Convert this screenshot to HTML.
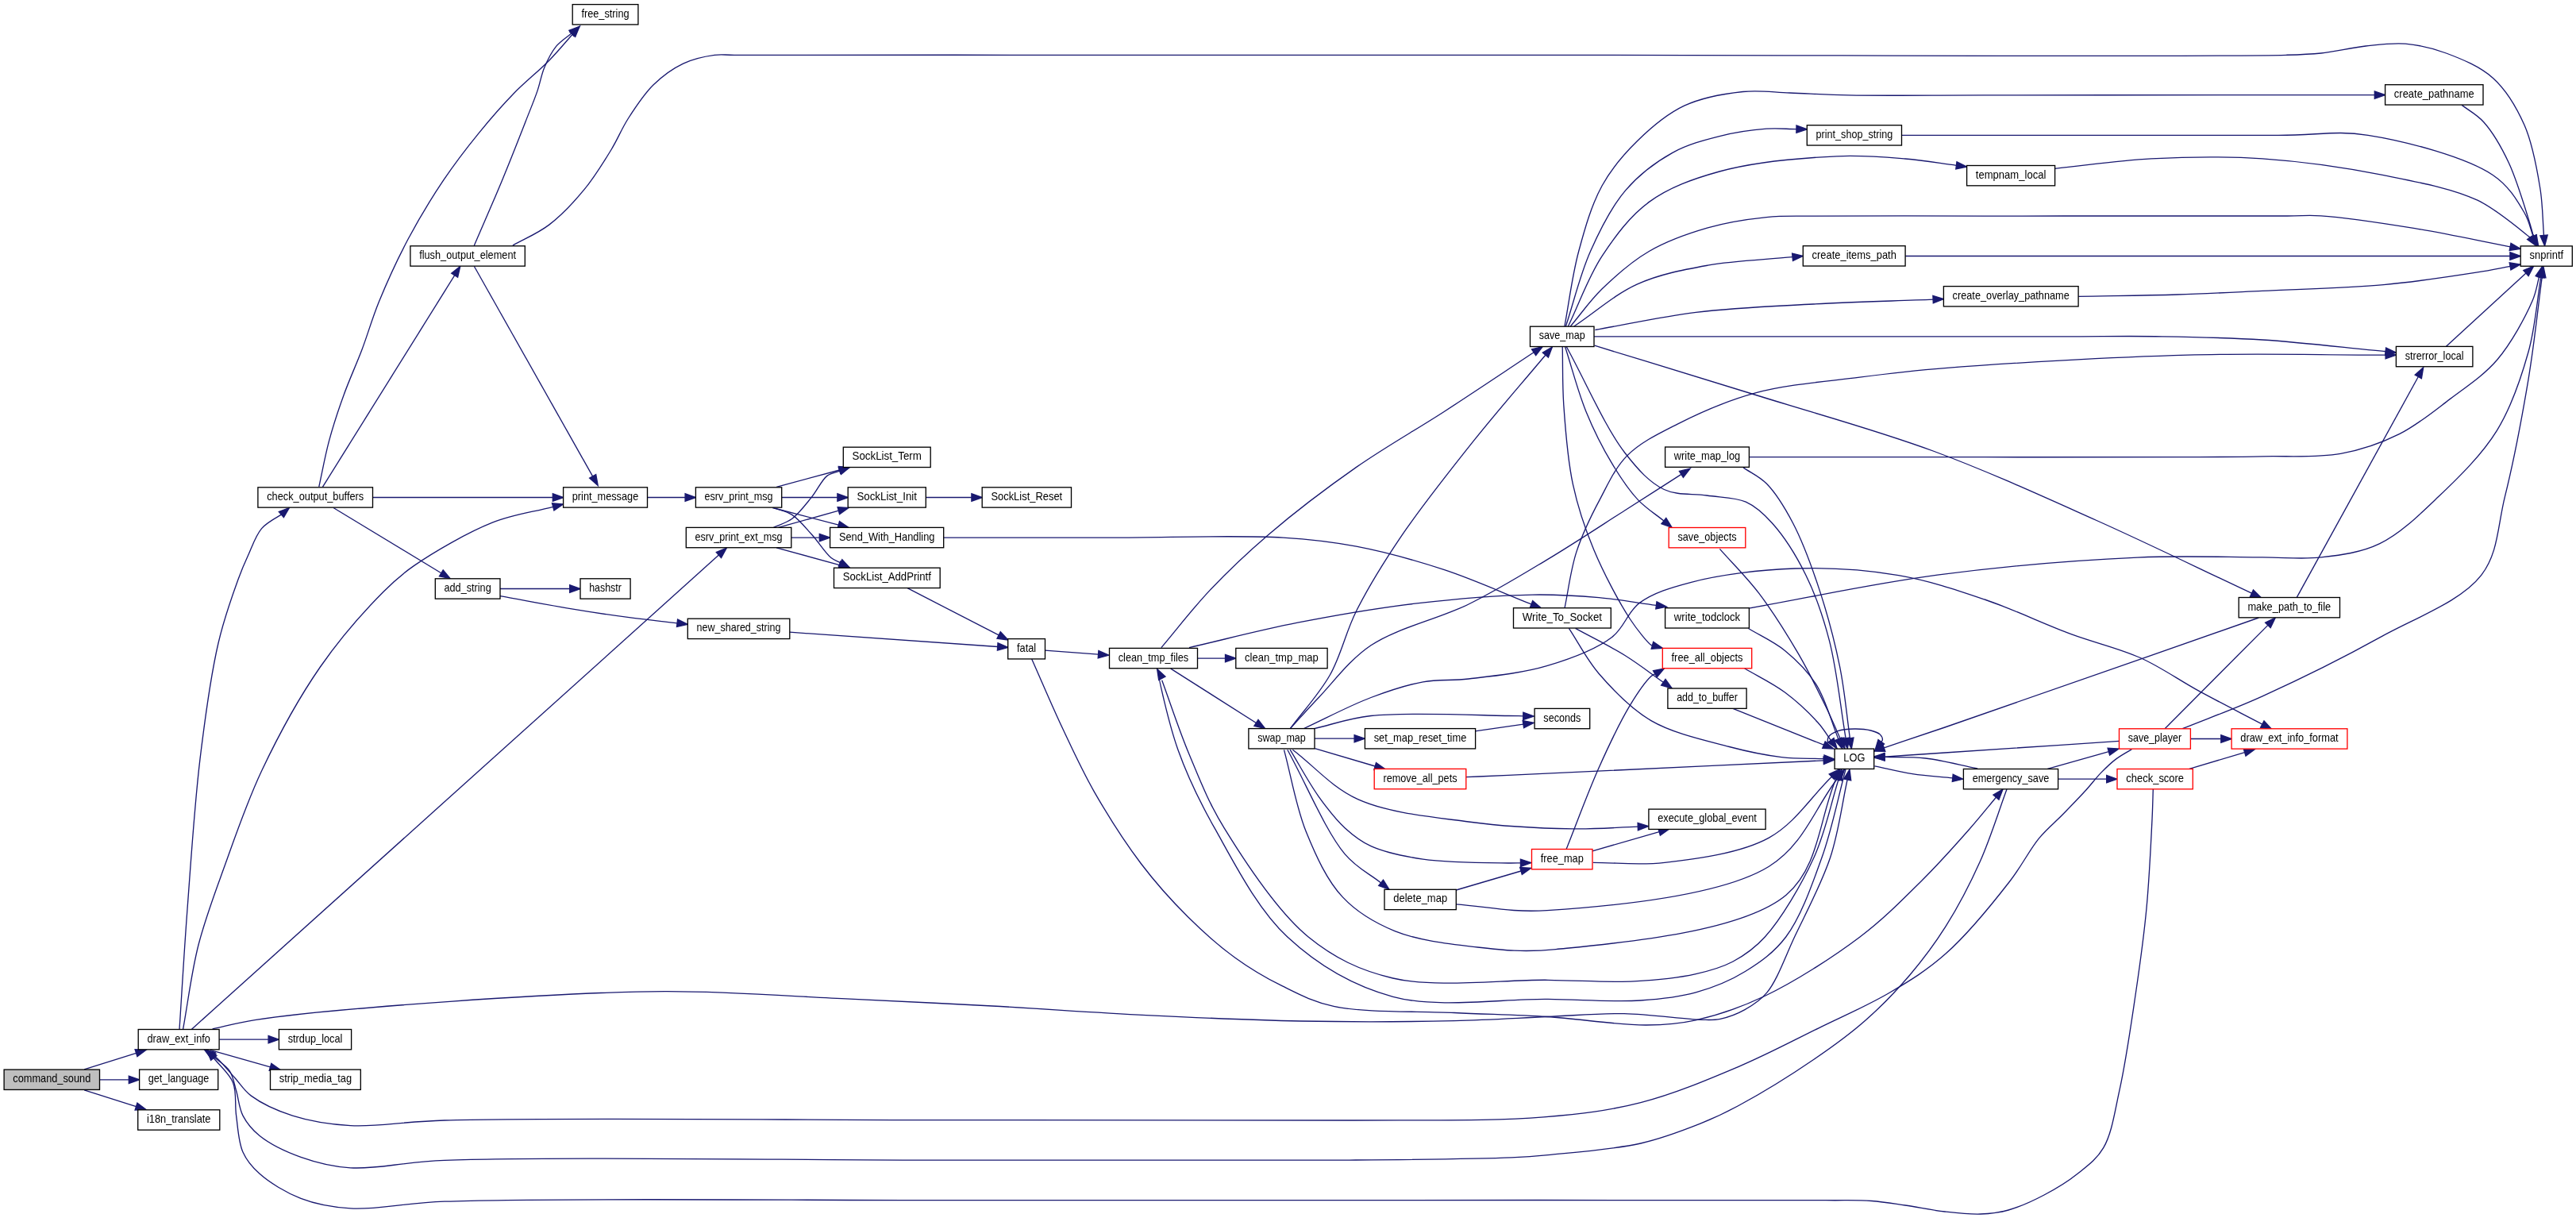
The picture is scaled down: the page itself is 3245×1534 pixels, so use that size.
<!DOCTYPE html><html><head><meta charset="utf-8"><style>html,body{margin:0;padding:0;background:#fff;overflow:hidden;width:3245px;height:1534px}svg{display:block;will-change:transform}text{font-family:"Liberation Sans",sans-serif;font-size:13.75px}</style></head><body>
<svg width="3245" height="1534" viewBox="0 0 3245 1534">
<g fill="none" stroke="#191970" stroke-width="1.33">
<path d="M106.1,1346.8L171.5,1326.3"/>
<path d="M125.5,1359.8L162.3,1359.8"/>
<path d="M106.1,1372.9L171.5,1393.6"/>
<path d="M276.1,1309.2L338.1,1309.2"/>
<path d="M264.7,1322.3L340.5,1343.9"/>
<path d="M226.0,1296.6C229.3,1246.0 232.0,1198.1 236.0,1144.8C240.5,1085.3 244.9,1014.7 252.0,955.9C258.3,904.0 265.4,851.1 275.0,810.0C282.2,779.0 292.7,749.8 300.0,729.7C304.5,717.3 307.6,710.2 312.3,700.0C317.4,688.9 322.0,674.4 329.6,665.6C336.3,657.8 352.3,649.7 354.0,648.4C354.2,648.2 354.2,648.2 354.3,648.1"/>
<path d="M230.5,1296.7C237.0,1261.1 241.1,1224.7 250.0,1190.0C258.8,1155.8 270.8,1124.5 283.3,1089.8C297.1,1051.5 311.0,1010.1 330.0,970.0C350.5,926.8 376.5,878.8 403.4,840.0C428.0,804.6 460.7,767.7 483.3,745.0C497.7,730.5 505.2,723.8 521.7,712.4C546.3,695.4 588.7,670.7 620.2,658.2C646.6,647.7 671.2,645.0 696.7,638.3"/>
<path d="M241.0,1296.7L905.4,699.1"/>
<path d="M267.6,1296.0C285.4,1292.2 296.6,1288.4 321.0,1284.6C372.9,1276.6 482.7,1267.2 566.7,1261.3C654.7,1255.1 750.6,1248.9 837.5,1248.7C918.1,1248.5 997.9,1254.9 1070.5,1258.2C1134.2,1261.1 1189.0,1263.7 1250.0,1267.0C1313.4,1270.5 1379.3,1275.4 1444.0,1278.6C1508.6,1281.8 1573.3,1284.8 1638.0,1286.0C1702.7,1287.2 1775.5,1286.9 1832.0,1285.6C1875.9,1284.6 1911.8,1282.1 1949.0,1280.5C1982.8,1279.1 2013.6,1276.0 2046.0,1276.6C2078.6,1277.2 2122.7,1283.9 2144.0,1284.3C2154.3,1284.5 2158.9,1285.0 2167.0,1283.3C2176.7,1281.3 2188.3,1277.0 2198.0,1271.6C2208.0,1266.0 2217.3,1260.5 2226.0,1249.9C2238.9,1234.1 2248.6,1205.5 2260.6,1180.0C2274.9,1149.8 2294.4,1113.7 2305.6,1080.0C2316.3,1047.7 2320.0,1014.7 2327.1,982.0"/>
<path d="M420.0,639.5L555.8,721.8"/>
<path d="M406.4,613.4L572.6,346.8"/>
<path d="M401.8,613.0C406.0,593.8 409.4,574.5 414.5,555.4C419.7,536.1 426.0,516.9 432.9,497.9C439.8,478.6 448.5,460.0 455.9,440.5C463.4,420.7 468.7,401.3 477.4,380.0C487.6,355.1 500.7,326.4 514.3,300.8C527.8,275.4 543.3,249.8 558.7,226.9C573.0,205.7 587.8,186.4 603.0,167.8C617.4,150.1 632.2,133.1 647.4,117.5C661.8,102.7 678.7,89.5 691.7,76.2C702.8,64.9 711.4,54.2 721.2,43.2"/>
<path d="M469.5,626.5L696.3,626.5"/>
<path d="M597.1,309.7C608.9,282.1 621.5,253.8 632.6,226.9C643.1,201.6 654.0,173.7 662.1,153.0C667.9,138.1 672.8,126.6 676.9,114.6C680.5,104.2 681.8,94.4 685.8,85.0C689.7,75.7 694.6,65.8 700.6,58.4C706.1,51.7 713.5,47.4 719.9,41.9"/>
<path d="M597.4,335.5L746.6,599.8"/>
<path d="M645.9,309.1C661.2,300.4 677.3,294.1 691.7,283.1C707.5,271.1 722.9,254.6 736.0,238.7C748.9,223.0 760.3,204.4 770.0,188.5C778.3,174.9 782.9,162.5 791.2,149.5C800.3,135.3 811.1,118.6 823.2,106.8C834.4,95.8 847.4,86.4 860.6,80.1C873.1,74.2 888.3,71.0 900.0,69.4C909.2,68.2 911.8,69.3 925.0,69.3C976.3,69.2 1155.7,69.3 1300.0,69.3C1497.2,69.3 1753.3,69.3 2000.0,69.3C2276.6,69.3 2773.0,72.1 2880.0,69.3C2903.9,68.7 2908.3,68.6 2923.8,67.0C2941.4,65.1 2961.7,60.0 2980.0,58.0C2997.2,56.2 3013.5,53.8 3030.2,55.2C3047.3,56.7 3064.2,60.5 3081.5,67.0C3101.0,74.3 3124.3,83.7 3140.6,98.5C3157.4,113.7 3170.2,135.5 3180.0,157.6C3190.4,181.2 3195.7,211.8 3199.7,236.5C3203.2,257.7 3202.9,276.5 3204.5,296.5"/>
<path d="M815.5,626.5L863.1,626.5"/>
<path d="M630.0,741.5L717.7,741.5"/>
<path d="M630.0,750.6C659.6,755.9 690.4,761.9 718.7,766.6C744.4,770.9 769.2,774.6 792.6,777.7C813.7,780.5 832.9,782.4 853.1,784.8"/>
<path d="M978.1,613.4L1057.5,592.0"/>
<path d="M984.7,626.5L1054.9,626.5"/>
<path d="M973.2,639.5L1056.3,661.1"/>
<path d="M974.4,639.5C982.2,642.5 990.4,643.6 997.8,648.4C1006.5,654.1 1014.4,664.2 1022.4,673.0C1030.8,682.2 1039.8,696.7 1047.0,702.6C1051.2,706.0 1054.8,706.7 1058.6,708.8"/>
<path d="M974.4,664.4C982.2,660.7 990.4,658.8 997.8,653.3C1006.6,646.8 1014.9,635.4 1022.4,626.2C1029.6,617.4 1035.0,604.5 1042.1,599.1C1047.1,595.3 1052.6,595.2 1057.9,593.2"/>
<path d="M980.5,664.4L1056.4,643.1"/>
<path d="M996.8,677.1L1032.3,677.1"/>
<path d="M978.1,689.8L1057.5,711.6"/>
<path d="M1166.3,626.5L1223.9,626.5"/>
<path d="M1143.1,740.7L1258.1,799.9"/>
<path d="M994.8,796.2L1256.7,814.5"/>
<path d="M1316.5,819.1L1383.5,824.2"/>
<path d="M1188.7,677.1C1259.1,677.1 1329.2,677.1 1400.0,677.1C1471.7,677.1 1559.4,673.7 1616.3,677.1C1653.6,679.3 1676.6,682.1 1708.6,688.2C1744.1,695.0 1783.0,705.7 1819.5,717.7C1856.5,729.9 1892.5,746.5 1929.0,760.9"/>
<path d="M1299.7,829.9C1312.8,859.4 1325.6,890.0 1339.1,918.5C1351.9,945.7 1363.2,970.6 1378.5,997.3C1395.5,1026.9 1416.9,1060.7 1437.6,1088.0C1456.4,1112.8 1476.3,1134.8 1496.7,1155.0C1515.8,1173.9 1535.5,1191.4 1555.9,1206.2C1575.0,1220.1 1594.4,1231.5 1615.0,1241.7C1635.7,1251.9 1653.2,1261.5 1680.0,1267.3C1719.5,1275.9 1784.6,1273.2 1832.0,1275.5C1873.5,1277.5 1909.4,1278.0 1949.0,1280.5C1990.0,1283.1 2039.6,1291.3 2074.0,1291.0C2098.3,1290.8 2113.9,1289.7 2136.0,1284.8C2162.9,1278.9 2192.5,1269.0 2223.0,1254.5C2260.7,1236.5 2308.4,1206.1 2343.0,1180.0C2372.7,1157.6 2396.4,1133.4 2420.0,1110.0C2441.7,1088.5 2463.0,1064.6 2480.0,1045.3C2493.3,1030.2 2503.0,1017.9 2514.4,1004.2"/>
<path d="M1508.5,829.1L1543.5,829.1"/>
<path d="M1474.8,842.1L1582.4,910.5"/>
<path d="M1462.9,815.6C1483.2,791.6 1501.9,766.9 1523.9,743.6C1546.7,719.4 1570.0,697.2 1597.8,673.4C1630.4,645.6 1671.1,614.6 1708.6,588.4C1745.0,563.0 1782.5,542.1 1819.5,518.2C1857.0,493.9 1894.6,468.6 1932.1,443.8"/>
<path d="M1498.0,815.6C1543.6,805.1 1588.1,793.3 1634.7,784.2C1682.9,774.8 1733.1,766.1 1782.5,760.2C1831.6,754.4 1887.9,749.8 1930.3,749.1C1962.2,748.6 1987.3,750.3 2014.2,752.7C2039.2,754.9 2062.3,759.2 2086.4,762.4"/>
<path d="M1463.9,854.3C1462.3,851.4 1459.9,845.5 1459.3,845.7C1457.5,846.4 1472.4,911.9 1483.9,944.2C1495.8,977.6 1510.3,1007.9 1529.9,1042.7C1554.1,1085.5 1583.3,1144.3 1621.8,1180.0C1658.8,1214.4 1704.2,1241.6 1754.7,1255.3C1811.8,1270.8 1893.3,1257.6 1950.0,1258.4C1993.8,1259.0 2032.7,1262.2 2066.5,1260.0C2092.8,1258.3 2114.1,1256.1 2136.3,1249.9C2158.0,1243.8 2179.5,1235.2 2198.4,1223.5C2217.3,1211.9 2234.9,1199.6 2249.7,1180.0C2268.6,1155.0 2282.5,1114.7 2295.0,1080.0C2307.8,1044.5 2315.0,1006.0 2325.0,969.0"/>
<path d="M1463.7,856.7C1475.1,887.8 1485.1,919.2 1498.0,950.0C1511.1,981.3 1521.9,1009.9 1542.0,1042.7C1568.2,1085.3 1608.6,1147.8 1648.1,1180.0C1680.8,1206.6 1712.5,1222.0 1754.7,1232.0C1808.8,1244.8 1894.4,1233.6 1950.0,1234.3C1991.5,1234.8 2025.6,1237.6 2058.7,1235.9C2086.8,1234.4 2113.9,1231.6 2136.3,1226.6C2154.1,1222.6 2168.6,1218.7 2183.0,1211.0C2197.6,1203.2 2209.8,1194.9 2223.3,1180.0C2243.8,1157.3 2269.4,1114.2 2285.0,1080.0C2299.6,1048.0 2305.7,1014.5 2316.0,981.7"/>
<path d="M2302.0,936.0C2302.5,933.3 2301.8,930.3 2303.4,928.0C2305.5,925.0 2310.5,922.4 2315.2,920.7C2321.0,918.6 2329.1,918.1 2336.0,918.0C2342.9,917.9 2350.8,918.5 2356.6,920.0C2361.2,921.2 2366.0,922.7 2368.4,925.1C2370.3,927.0 2371.6,930.4 2371.4,932.0C2371.3,933.0 2370.3,933.5 2369.8,934.2"/>
<path d="M2361.4,964.8C2377.3,968.1 2392.8,972.1 2409.0,974.6C2425.6,977.2 2442.8,978.1 2459.7,979.8"/>
<path d="M2491.1,968.0C2469.2,963.7 2446.1,957.3 2425.5,955.0C2407.4,952.9 2391.2,953.9 2374.0,953.4"/>
<path d="M2579.3,968.4L2656.4,946.6"/>
<path d="M2592.6,981.2L2653.7,981.2"/>
<path d="M2528.0,994.1C2516.8,1024.4 2507.3,1055.9 2494.3,1085.0C2481.6,1113.4 2466.7,1141.9 2451.1,1166.7C2436.9,1189.2 2422.3,1208.7 2405.6,1228.2C2388.6,1248.1 2369.9,1267.5 2350.0,1285.0C2330.0,1302.7 2309.8,1317.3 2285.7,1333.7C2257.2,1353.2 2216.0,1378.5 2189.1,1393.0C2170.9,1402.8 2159.6,1408.1 2141.8,1415.2C2119.9,1423.9 2094.9,1433.7 2066.8,1440.0C2032.5,1447.7 1980.1,1451.6 1950.0,1454.6C1931.1,1456.5 1924.7,1457.0 1903.8,1457.9C1860.0,1459.8 1782.9,1460.4 1700.0,1461.1C1570.1,1462.1 1376.9,1461.1 1200.0,1461.1C999.8,1461.1 688.3,1456.3 560.0,1461.4C504.7,1463.6 474.6,1473.0 441.5,1470.8C417.2,1469.2 398.5,1464.3 379.0,1457.3C360.3,1450.6 339.6,1440.5 326.8,1430.2C317.3,1422.5 310.9,1414.5 306.0,1405.1C301.1,1395.7 300.5,1383.6 297.6,1373.8C294.9,1365.0 294.0,1355.9 289.3,1348.8C284.5,1341.6 275.8,1336.8 269.0,1330.8"/>
<path d="M2759.4,930.5L2797.8,930.5"/>
<path d="M2727.1,917.7L2856.9,787.4"/>
<path d="M2749.3,917.7C2782.9,904.1 2813.6,893.3 2850.0,876.8C2894.9,856.5 2950.8,829.0 2997.8,802.9C3042.6,778.0 3100.1,757.7 3125.9,724.1C3147.3,696.3 3146.3,662.0 3155.4,625.6C3166.4,581.5 3177.0,525.5 3185.0,477.8C3192.4,433.6 3196.5,392.1 3202.2,349.2"/>
<path d="M2669.5,933.4C2596.3,938.3 2504.2,944.4 2450.0,948.0C2418.1,950.1 2399.3,951.4 2374.0,953.1"/>
<path d="M2685.4,943.6C2678.5,947.9 2671.1,951.7 2664.7,956.6C2658.3,961.5 2652.9,966.9 2647.0,972.9C2640.5,979.5 2635.0,987.1 2627.8,995.0C2619.1,1004.6 2608.1,1015.8 2598.2,1026.0C2588.4,1036.0 2578.5,1043.7 2568.7,1055.6C2556.4,1070.5 2547.2,1090.1 2531.7,1110.0C2510.7,1137.1 2478.6,1176.7 2451.1,1201.1C2428.1,1221.6 2406.2,1234.9 2380.7,1250.0C2353.1,1266.3 2321.9,1279.6 2291.0,1294.8C2258.2,1310.9 2225.0,1328.6 2189.1,1343.8C2150.6,1360.1 2108.1,1378.1 2066.8,1388.6C2026.6,1398.9 1992.5,1402.9 1944.6,1406.9C1877.2,1412.5 1796.0,1410.2 1700.0,1411.0C1562.8,1412.1 1376.9,1410.6 1200.0,1410.6C999.8,1410.6 688.3,1407.4 560.0,1411.0C504.7,1412.6 476.1,1419.6 441.5,1417.6C414.1,1416.0 390.4,1412.1 368.5,1405.1C349.2,1398.9 329.2,1389.6 316.4,1380.1C307.0,1373.1 302.7,1365.0 295.6,1357.2C288.1,1349.0 277.3,1336.1 272.6,1332.1C270.8,1330.6 269.9,1330.3 268.6,1329.4"/>
<path d="M2757.9,968.4L2827.6,947.6"/>
<path d="M2712.3,994.0C2711.9,1006.0 2711.8,1014.6 2711.1,1030.0C2709.8,1057.3 2707.5,1106.5 2704.0,1143.7C2700.6,1179.8 2695.9,1213.4 2690.5,1250.0C2684.7,1289.4 2678.0,1336.9 2670.1,1372.3C2663.9,1400.1 2660.5,1427.1 2649.7,1445.7C2641.3,1460.1 2629.3,1468.6 2617.1,1478.3C2604.5,1488.4 2589.6,1497.4 2575.0,1505.0C2560.6,1512.6 2544.3,1520.0 2530.0,1524.0C2517.8,1527.4 2507.3,1528.5 2494.8,1529.0C2480.8,1529.5 2465.3,1527.7 2450.0,1526.0C2433.7,1524.2 2416.0,1520.3 2400.0,1518.0C2385.3,1515.9 2372.9,1513.6 2357.7,1512.5C2340.0,1511.2 2329.4,1511.9 2300.0,1511.7C2205.3,1511.0 1890.9,1511.7 1700.0,1511.7C1525.7,1511.7 1376.9,1511.5 1200.0,1511.7C999.8,1511.9 688.3,1508.3 560.0,1513.2C504.7,1515.3 474.6,1524.0 441.5,1521.9C417.2,1520.4 398.3,1516.9 379.0,1509.4C360.1,1502.1 339.5,1489.5 326.8,1478.1C317.3,1469.6 310.8,1461.9 306.0,1451.0C300.3,1438.3 299.7,1420.1 297.6,1405.1C295.6,1390.9 298.4,1375.6 293.5,1363.4C288.7,1351.5 277.3,1342.8 269.2,1332.5"/>
<path d="M2893.3,752.4L3046.3,474.5"/>
<path d="M2845.3,778.0C2713.5,824.0 2530.6,888.4 2450.0,916.0C2414.6,928.1 2398.9,933.2 2373.3,941.8"/>
<path d="M3081.5,436.3L3182.0,344.0"/>
<path d="M3101.2,132.4C3110.4,139.5 3120.0,144.1 3128.7,153.7C3140.1,166.4 3150.8,184.7 3160.3,205.0C3172.5,231.1 3192.4,299.2 3191.8,299.5C3191.7,299.5 3191.3,298.7 3191.1,298.2"/>
<path d="M2395.5,170.4C2553.7,170.4 2766.3,170.4 2870.0,170.4C2920.6,170.4 2942.7,164.0 2983.0,170.3C3031.7,177.9 3107.3,198.3 3140.6,220.7C3160.9,234.4 3171.5,253.4 3180.0,268.0C3186.0,278.4 3187.3,287.5 3191.0,297.3"/>
<path d="M2588.6,212.3C2629.0,208.2 2667.9,202.0 2709.8,199.9C2754.8,197.6 2802.4,196.7 2850.0,199.9C2899.9,203.3 2955.2,211.2 3002.6,220.7C3044.8,229.2 3088.1,236.9 3120.9,252.2C3147.7,264.7 3187.3,300.1 3187.9,299.5C3188.0,299.4 3187.6,299.0 3187.4,298.8"/>
<path d="M1978.3,411.0C1991.6,395.3 2002.8,378.8 2018.2,363.8C2035.3,347.2 2055.5,329.2 2077.4,316.5C2099.8,303.4 2126.3,294.1 2151.3,286.9C2175.6,279.9 2201.9,276.0 2225.2,273.6C2245.9,271.5 2258.4,272.4 2284.3,272.1C2333.7,271.5 2441.8,272.1 2500.0,272.1C2539.7,272.1 2558.2,272.0 2600.0,272.0C2670.1,272.0 2828.9,272.1 2881.4,272.0C2901.8,272.0 2906.2,270.7 2923.8,271.9C2953.4,273.8 3002.5,281.3 3042.0,287.7C3082.0,294.2 3122.1,303.1 3162.1,310.8"/>
<path d="M2400.1,322.5L3161.9,322.5"/>
<path d="M2618.1,373.3C2659.6,372.5 2702.6,372.2 2742.6,371.0C2779.7,369.9 2811.1,368.2 2850.0,366.4C2896.4,364.2 2955.0,363.0 3002.6,358.6C3044.6,354.7 3091.7,347.5 3120.9,342.9C3138.2,340.2 3148.4,337.9 3162.1,335.4"/>
<path d="M1970.9,411.0C1976.8,379.5 1980.5,346.7 1988.7,316.5C1996.5,287.7 2004.9,257.7 2018.2,233.7C2030.2,212.0 2045.5,194.2 2062.6,177.5C2079.9,160.6 2099.7,143.5 2121.7,133.2C2144.0,122.7 2172.2,118.0 2195.6,115.5C2216.3,113.3 2233.9,116.3 2254.7,117.0C2278.0,117.8 2298.9,119.3 2328.6,119.9C2373.9,120.8 2434.9,119.9 2500.0,119.9C2586.1,119.9 2711.2,119.6 2800.0,119.6C2870.9,119.6 2927.5,119.6 2991.3,119.6"/>
<path d="M1972.4,411.0C1982.8,379.5 1990.4,345.8 2003.5,316.5C2015.8,288.9 2029.6,260.8 2047.8,239.6C2064.6,220.0 2086.2,203.8 2106.9,192.3C2125.8,181.9 2146.1,176.6 2166.0,171.6C2185.5,166.7 2207.6,163.5 2225.2,162.2C2239.2,161.2 2250.4,162.5 2263.0,162.6"/>
<path d="M1975.4,411.0C1989.7,381.5 2000.7,348.9 2018.2,322.4C2035.0,297.0 2053.3,272.0 2077.4,254.4C2102.3,236.2 2132.0,225.4 2166.0,216.0C2208.3,204.3 2271.1,198.8 2313.8,196.8C2346.3,195.3 2373.4,197.8 2400.0,200.0C2423.1,201.9 2442.9,205.5 2464.4,208.3"/>
<path d="M1982.8,411.0C2009.4,393.3 2034.2,370.7 2062.6,357.9C2090.4,345.3 2120.1,339.9 2151.3,334.2C2185.0,328.1 2222.5,327.2 2258.0,323.7"/>
<path d="M2009.4,415.5C2051.8,408.1 2092.4,398.7 2136.5,393.3C2183.8,387.5 2234.8,385.7 2284.3,383.0C2334.3,380.3 2384.8,379.1 2435.1,377.1"/>
<path d="M2008.0,423.8C2105.3,423.8 2202.0,423.8 2300.0,423.8C2399.3,423.8 2521.7,423.8 2600.0,423.8C2650.3,423.8 2682.5,423.1 2724.0,423.8C2765.8,424.5 2805.9,425.2 2850.0,428.0C2899.1,431.1 2953.4,437.8 3005.1,442.7"/>
<path d="M2008.7,435.2C2079.1,456.8 2149.3,478.0 2220.0,500.0C2291.5,522.2 2365.0,542.1 2435.2,568.0C2504.9,593.8 2572.7,624.9 2640.0,655.0C2706.5,684.7 2771.0,716.5 2836.5,747.2"/>
<path d="M1971.5,436.5C1980.3,463.6 1987.5,492.6 1997.8,517.9C2007.4,541.4 2018.8,564.1 2030.6,583.6C2040.9,600.7 2051.7,617.0 2063.5,629.6C2073.7,640.4 2085.1,647.2 2095.9,656.0"/>
<path d="M1968.2,436.5C1968.8,461.5 1968.0,484.8 1969.9,511.4C1972.0,542.0 1974.7,578.9 1981.4,609.9C1987.6,638.8 1996.2,664.7 2007.6,692.0C2019.8,721.4 2039.4,758.4 2053.6,780.0C2062.8,794.0 2076.3,810.0 2079.9,812.4C2080.6,812.9 2080.9,812.7 2081.4,812.8"/>
<path d="M1973.2,436.5C1997.8,481.2 2022.3,538.8 2047.0,570.5C2063.4,591.5 2078.0,607.8 2096.3,616.5C2112.7,624.3 2132.5,621.3 2150.0,624.0C2166.8,626.6 2185.2,625.9 2199.3,632.2C2212.2,638.0 2221.4,646.7 2232.1,658.5C2246.7,674.7 2263.0,700.3 2274.8,724.2C2287.3,749.4 2296.3,775.7 2304.3,806.3C2313.9,842.9 2318.2,888.7 2325.1,929.9"/>
<path d="M2166.4,691.4C2182.8,710.0 2200.0,726.6 2215.7,747.2C2233.0,769.9 2250.5,797.9 2265.0,822.7C2278.3,845.4 2290.4,870.2 2300.0,890.0C2307.4,905.2 2312.3,917.2 2318.5,930.9"/>
<path d="M2196.0,588.9C2205.8,595.7 2216.2,599.9 2225.5,609.3C2237.4,621.4 2248.3,639.4 2258.4,658.5C2270.7,681.8 2281.6,711.7 2291.2,740.6C2301.5,771.6 2310.9,806.7 2317.5,839.1C2323.8,869.8 2326.1,899.6 2330.4,929.8"/>
<path d="M2203.4,575.7C2302.3,575.7 2405.4,575.7 2500.0,575.7C2586.9,575.7 2685.4,576.0 2750.0,575.7C2790.8,575.5 2816.8,575.5 2850.0,574.8C2883.0,574.1 2918.4,576.8 2948.5,571.4C2975.3,566.6 2999.4,558.2 3022.4,546.7C3045.4,535.2 3065.9,518.0 3086.5,502.4C3107.0,486.9 3128.7,472.9 3145.6,453.2C3163.5,432.3 3181.4,399.0 3189.9,379.3C3195.1,367.3 3195.7,359.0 3198.6,348.8"/>
<path d="M2201.3,766.4C2281.1,752.3 2359.6,734.9 2440.6,724.2C2523.3,713.3 2618.3,705.4 2692.5,702.1C2751.1,699.5 2807.3,701.9 2850.0,701.9C2879.2,701.9 2899.4,704.7 2923.9,701.9C2948.7,699.1 2974.4,696.1 2997.8,684.7C3024.0,672.0 3048.0,648.2 3071.7,625.6C3097.4,601.1 3126.6,572.7 3145.6,541.8C3164.1,511.7 3175.8,476.3 3185.0,443.3C3193.8,412.0 3195.5,380.5 3200.8,349.1"/>
<path d="M2202.5,791.5C2217.8,800.8 2234.5,807.9 2248.5,819.4C2263.1,831.3 2277.1,845.0 2287.9,862.1C2300.1,881.4 2306.5,907.8 2315.8,930.7"/>
<path d="M2197.6,841.8C2214.6,851.9 2232.9,860.5 2248.5,872.0C2263.7,883.3 2279.7,898.6 2290.0,910.0C2297.2,918.0 2300.9,924.8 2306.3,932.3"/>
<path d="M2181.7,891.9L2297.4,938.2"/>
<path d="M1984.6,791.4C2005.4,802.8 2027.8,813.6 2047.0,825.5C2064.4,836.3 2079.2,848.0 2095.3,859.3"/>
<path d="M1976.4,791.4C1989.0,810.4 1998.5,830.3 2014.2,848.5C2032.1,869.2 2054.0,892.5 2079.9,907.6C2108.0,924.0 2148.7,932.6 2178.4,940.5C2202.3,946.8 2223.2,951.1 2244.1,953.6C2262.8,955.8 2279.9,955.0 2297.8,955.7"/>
<path d="M1971.0,765.8C1975.9,742.4 1978.4,718.3 1985.7,695.6C1993.1,672.7 2004.2,649.9 2015.3,629.1C2025.8,609.4 2034.5,589.1 2050.0,573.6C2066.5,557.1 2088.8,546.4 2112.7,534.3C2141.3,519.8 2175.5,504.6 2211.3,494.9C2251.4,484.0 2301.0,480.5 2342.6,475.2C2380.1,470.4 2405.0,467.3 2450.0,463.7C2525.7,457.6 2658.8,449.7 2755.5,447.1C2842.9,444.7 2921.9,447.1 3005.1,447.1"/>
<path d="M1625.1,917.9C1641.9,895.3 1661.5,874.5 1675.4,850.0C1689.5,825.1 1694.9,796.7 1708.6,769.5C1723.8,739.2 1742.2,709.4 1764.0,677.1C1790.0,638.6 1825.3,594.2 1856.4,555.2C1886.3,517.7 1916.7,483.2 1946.8,447.2"/>
<path d="M1625.1,917.9C1637.1,904.8 1647.2,893.1 1661.2,878.5C1679.7,859.2 1699.5,831.3 1727.0,812.8C1760.0,790.6 1811.8,779.8 1850.0,761.0C1885.2,743.7 1915.9,724.7 1948.5,705.1C1981.6,685.3 2016.9,661.9 2047.0,642.7C2072.6,626.4 2094.2,612.5 2117.9,597.4"/>
<path d="M1654.7,917.9C1678.8,912.4 1697.5,904.8 1727.0,901.5C1772.1,896.5 1871.4,901.3 1900.0,901.5C1909.4,901.6 1912.5,901.7 1918.8,901.8"/>
<path d="M1858.2,920.8L1918.9,912.2"/>
<path d="M1656.0,930.2L1706.1,930.2"/>
<path d="M1656.3,942.6L1732.2,965.0"/>
<path d="M1846.8,978.7C1864.5,977.9 1874.0,977.6 1900.0,976.4C1970.9,973.2 2164.8,964.0 2297.2,957.8"/>
<path d="M1628.4,944.2C1655.8,965.0 1677.5,991.7 1710.5,1006.6C1749.3,1024.2 1804.0,1028.8 1850.0,1035.0C1894.3,1041.0 1942.7,1043.3 1981.4,1043.9C2011.9,1044.4 2036.0,1042.0 2063.3,1041.1"/>
<path d="M1625.1,944.2C1637.1,963.9 1648.8,986.0 1661.2,1003.3C1671.9,1018.2 1682.4,1031.9 1694.1,1042.7C1704.5,1052.2 1713.5,1059.5 1727.0,1065.7C1744.6,1073.7 1767.8,1078.5 1792.6,1082.1C1823.8,1086.7 1880.3,1086.7 1900.0,1087.0C1907.5,1087.1 1910.3,1086.9 1915.5,1086.8"/>
<path d="M1621.8,944.2C1645.9,988.0 1669.9,1046.8 1694.1,1075.6C1709.2,1093.5 1724.4,1099.8 1739.6,1111.9"/>
<path d="M1617.5,944.3C1626.8,978.8 1632.5,1016.0 1645.4,1047.8C1657.5,1077.6 1671.5,1108.7 1691.4,1129.9C1709.5,1149.2 1731.8,1162.3 1757.0,1172.6C1785.6,1184.2 1822.1,1188.5 1855.6,1192.3C1889.7,1196.2 1916.9,1199.9 1960.0,1195.6C2032.9,1188.3 2192.7,1175.3 2250.0,1127.2C2291.9,1092.1 2291.8,1029.9 2312.7,981.2"/>
<path d="M1641.5,918.0C1670.0,904.8 1700.0,888.7 1727.0,878.5C1750.0,869.8 1771.2,862.7 1792.6,858.8C1812.2,855.3 1828.4,857.5 1850.0,855.0C1878.5,851.7 1917.7,847.9 1948.5,838.7C1977.7,830.0 2010.3,818.1 2030.6,802.5C2046.5,790.3 2050.1,770.6 2065.3,759.4C2082.4,746.7 2104.5,740.1 2130.5,733.3C2166.1,724.0 2217.4,717.4 2261.0,716.0C2304.5,714.6 2350.4,717.6 2391.6,724.6C2429.8,731.1 2464.1,742.8 2500.0,755.0C2536.6,767.4 2574.5,785.8 2609.0,798.6C2639.6,809.9 2668.9,816.2 2696.3,828.5C2722.5,840.3 2745.0,856.7 2770.2,870.4C2796.1,884.5 2823.3,898.2 2849.8,912.1"/>
<path d="M1834.3,1121.0L1916.0,1097.0"/>
<path d="M1833.9,1138.8C1872.2,1141.4 1902.4,1149.6 1948.8,1146.6C2021.9,1141.9 2165.7,1129.8 2228.4,1091.2C2272.6,1064.0 2286.4,1016.7 2315.4,979.5"/>
<path d="M2006.0,1071.8L2090.1,1047.6"/>
<path d="M1973.2,1069.2C1986.9,1035.0 2000.0,998.4 2014.2,966.7C2026.9,938.4 2040.9,908.7 2053.6,887.9C2062.6,873.1 2074.2,857.0 2079.9,851.8C2081.9,849.9 2083.2,849.8 2084.9,848.8"/>
<path d="M2006.7,1086.3C2036.8,1086.3 2064.3,1090.1 2097.0,1086.3C2137.0,1081.6 2192.3,1074.9 2228.4,1055.1C2261.0,1037.2 2281.1,1003.9 2307.4,978.3"/>
</g><g fill="#191970" stroke="#191970" stroke-width="1.33">
<polygon points="184.2,1322.3 172.9,1330.7 170.1,1321.8"/>
<polygon points="175.6,1359.8 162.3,1364.5 162.3,1355.1"/>
<polygon points="184.2,1397.6 170.1,1398.0 172.9,1389.1"/>
<polygon points="351.4,1309.2 338.1,1313.9 338.1,1304.5"/>
<polygon points="353.3,1347.5 339.2,1348.3 341.8,1339.4"/>
<polygon points="364.5,639.5 357.4,651.7 351.3,644.6"/>
<polygon points="709.6,635.0 697.9,642.9 695.5,633.8"/>
<polygon points="915.3,690.2 908.5,702.6 902.3,695.6"/>
<polygon points="2330.0,969.0 2331.7,983.0 2322.6,981.0"/>
<polygon points="567.2,728.7 553.4,725.8 558.2,717.8"/>
<polygon points="579.7,335.5 576.6,349.3 568.7,344.3"/>
<polygon points="730.1,33.3 724.7,46.3 717.7,40.1"/>
<polygon points="709.6,626.5 696.3,631.2 696.3,621.8"/>
<polygon points="730.1,33.3 723.0,45.5 716.9,38.4"/>
<polygon points="753.2,611.4 742.6,602.1 750.7,597.5"/>
<polygon points="3205.6,309.8 3199.9,296.9 3209.2,296.1"/>
<polygon points="876.4,626.5 863.1,631.2 863.1,621.8"/>
<polygon points="731.0,741.5 717.7,746.2 717.7,736.8"/>
<polygon points="866.3,786.3 852.5,789.4 853.6,780.1"/>
<polygon points="1070.4,588.5 1058.7,596.5 1056.3,587.5"/>
<polygon points="1068.2,626.5 1054.9,631.2 1054.9,621.8"/>
<polygon points="1069.2,664.4 1055.1,665.6 1057.5,656.5"/>
<polygon points="1070.4,715.1 1056.4,712.9 1060.8,704.7"/>
<polygon points="1070.4,588.5 1059.6,597.5 1056.3,588.8"/>
<polygon points="1069.2,639.5 1057.6,647.6 1055.1,638.6"/>
<polygon points="1045.6,677.1 1032.3,681.8 1032.3,672.4"/>
<polygon points="1070.4,715.1 1056.3,716.1 1058.8,707.1"/>
<polygon points="1237.2,626.5 1223.9,631.2 1223.9,621.8"/>
<polygon points="1270.0,806.0 1256.0,804.1 1260.3,795.7"/>
<polygon points="1270.0,815.4 1256.4,819.1 1257.0,809.8"/>
<polygon points="1396.8,825.2 1383.2,828.8 1383.9,819.5"/>
<polygon points="1941.4,765.8 1927.3,765.3 1930.7,756.6"/>
<polygon points="2523.0,994.0 2518.0,1007.2 2510.9,1001.2"/>
<polygon points="1556.8,829.1 1543.5,833.8 1543.5,824.4"/>
<polygon points="1593.7,917.6 1579.9,914.4 1585.0,906.5"/>
<polygon points="1943.2,436.5 1934.7,447.7 1929.5,439.9"/>
<polygon points="2099.6,764.2 2085.8,767.0 2087.0,757.8"/>
<polygon points="1457.6,842.5 1468.0,852.1 1459.7,856.5"/>
<polygon points="2320.0,969.0 2320.4,983.1 2311.5,980.3"/>
<polygon points="2362.0,945.0 2366.0,931.5 2373.6,936.9"/>
<polygon points="2473.0,981.2 2459.3,984.5 2460.2,975.2"/>
<polygon points="2360.7,953.0 2374.2,948.7 2373.9,958.1"/>
<polygon points="2669.2,943.0 2657.6,951.1 2655.1,942.1"/>
<polygon points="2667.0,981.2 2653.7,985.9 2653.7,976.5"/>
<polygon points="259.0,1322.0 272.1,1327.3 265.9,1334.3"/>
<polygon points="2811.1,930.5 2797.8,935.2 2797.8,925.8"/>
<polygon points="2866.3,778.0 2860.2,790.7 2853.6,784.1"/>
<polygon points="3204.0,336.0 3206.9,349.8 3197.6,348.6"/>
<polygon points="2360.7,954.0 2373.7,948.4 2374.3,957.8"/>
<polygon points="257.5,1322.0 271.2,1325.5 266.0,1333.3"/>
<polygon points="2840.4,943.8 2829.0,952.1 2826.3,943.1"/>
<polygon points="261.0,1322.0 272.9,1329.6 265.6,1335.4"/>
<polygon points="3052.7,462.8 3050.4,476.7 3042.2,472.2"/>
<polygon points="2360.7,946.0 2371.8,937.3 2374.8,946.2"/>
<polygon points="3191.8,335.0 3185.1,347.5 3178.8,340.6"/>
<polygon points="3197.7,309.8 3187.0,300.6 3195.1,295.9"/>
<polygon points="3195.7,309.8 3186.6,299.0 3195.4,295.7"/>
<polygon points="3195.0,309.8 3183.6,301.5 3191.3,296.2"/>
<polygon points="3175.2,313.3 3161.2,315.4 3163.0,306.2"/>
<polygon points="3175.2,322.5 3161.9,327.2 3161.9,317.8"/>
<polygon points="3175.2,333.0 3162.9,340.0 3161.2,330.8"/>
<polygon points="3004.6,119.6 2991.3,124.3 2991.3,114.9"/>
<polygon points="2276.3,162.8 2262.9,167.3 2263.0,158.0"/>
<polygon points="2477.6,210.0 2463.8,212.9 2465.0,203.7"/>
<polygon points="2271.3,322.4 2258.5,328.4 2257.6,319.1"/>
<polygon points="2448.4,376.6 2435.3,381.8 2434.9,372.5"/>
<polygon points="3018.4,444.0 3004.7,447.4 3005.6,438.1"/>
<polygon points="2848.6,752.9 2834.5,751.5 2838.5,743.0"/>
<polygon points="2106.2,664.4 2092.9,659.6 2098.8,652.4"/>
<polygon points="2094.3,816.3 2080.2,817.3 2082.7,808.3"/>
<polygon points="2327.3,943.0 2320.5,930.6 2329.7,929.1"/>
<polygon points="2324.0,943.0 2314.2,932.8 2322.8,928.9"/>
<polygon points="2332.3,943.0 2325.8,930.5 2335.0,929.1"/>
<polygon points="3202.2,336.0 3203.0,350.1 3194.1,347.5"/>
<polygon points="3203.0,336.0 3205.4,349.9 3196.2,348.4"/>
<polygon points="2320.8,943.0 2311.5,932.4 2320.1,928.9"/>
<polygon points="2314.2,943.0 2302.6,935.0 2310.1,929.5"/>
<polygon points="2309.8,943.1 2295.7,942.5 2299.2,933.8"/>
<polygon points="2106.2,866.9 2092.6,863.1 2098.0,855.4"/>
<polygon points="2311.1,956.2 2297.6,960.3 2298.0,951.0"/>
<polygon points="3018.4,447.1 3005.1,451.8 3005.1,442.4"/>
<polygon points="1955.4,437.0 1950.4,450.2 1943.3,444.2"/>
<polygon points="2129.1,590.2 2120.4,601.3 2115.4,593.4"/>
<polygon points="1932.1,902.0 1918.7,906.5 1918.8,897.1"/>
<polygon points="1932.1,910.3 1919.6,916.8 1918.2,907.6"/>
<polygon points="1719.4,930.2 1706.1,934.9 1706.1,925.6"/>
<polygon points="1745.0,968.8 1730.9,969.5 1733.5,960.5"/>
<polygon points="2310.5,957.2 2297.4,962.5 2297.0,953.2"/>
<polygon points="2076.6,1040.6 2063.4,1045.7 2063.1,1036.4"/>
<polygon points="1928.8,1086.6 1915.5,1091.5 1915.4,1082.1"/>
<polygon points="1750.0,1120.2 1736.7,1115.5 1742.5,1108.2"/>
<polygon points="2318.0,969.0 2317.0,983.1 2308.4,979.4"/>
<polygon points="2861.6,918.3 2847.6,916.2 2852.0,908.0"/>
<polygon points="1928.8,1093.2 1917.3,1101.4 1914.7,1092.5"/>
<polygon points="2323.6,969.0 2319.1,982.4 2311.7,976.6"/>
<polygon points="2102.9,1043.9 2091.4,1052.1 2088.8,1043.1"/>
<polygon points="2096.3,842.0 2087.3,852.8 2082.5,844.8"/>
<polygon points="2317.0,969.0 2310.7,981.6 2304.2,974.9"/>
</g>
<rect x="5.1" y="1347.1" width="120.4" height="25.33" fill="#bfbfbf" stroke="#000" stroke-width="1.33"/>
<text x="65.3" y="1363.2" text-anchor="middle" textLength="97.9" lengthAdjust="spacingAndGlyphs">command_sound</text>
<rect x="174.2" y="1296.5" width="101.9" height="25.33" fill="#fff" stroke="#000" stroke-width="1.33"/>
<text x="225.2" y="1312.6" text-anchor="middle" textLength="79.4" lengthAdjust="spacingAndGlyphs">draw_ext_info</text>
<rect x="175.6" y="1347.1" width="99.1" height="25.33" fill="#fff" stroke="#000" stroke-width="1.33"/>
<text x="225.1" y="1363.2" text-anchor="middle" textLength="76.6" lengthAdjust="spacingAndGlyphs">get_language</text>
<rect x="173.7" y="1397.8" width="103.1" height="25.33" fill="#fff" stroke="#000" stroke-width="1.33"/>
<text x="225.2" y="1413.9" text-anchor="middle" textLength="80.6" lengthAdjust="spacingAndGlyphs">i18n_translate</text>
<rect x="351.4" y="1296.5" width="91.2" height="25.33" fill="#fff" stroke="#000" stroke-width="1.33"/>
<text x="397.0" y="1312.6" text-anchor="middle" textLength="68.7" lengthAdjust="spacingAndGlyphs">strdup_local</text>
<rect x="340.5" y="1347.1" width="113.8" height="25.33" fill="#fff" stroke="#000" stroke-width="1.33"/>
<text x="397.4" y="1363.2" text-anchor="middle" textLength="91.3" lengthAdjust="spacingAndGlyphs">strip_media_tag</text>
<rect x="324.9" y="613.8" width="144.6" height="25.33" fill="#fff" stroke="#000" stroke-width="1.33"/>
<text x="397.2" y="629.9" text-anchor="middle" textLength="122.1" lengthAdjust="spacingAndGlyphs">check_output_buffers</text>
<rect x="516.9" y="309.8" width="144.4" height="25.33" fill="#fff" stroke="#000" stroke-width="1.33"/>
<text x="589.1" y="325.9" text-anchor="middle" textLength="121.9" lengthAdjust="spacingAndGlyphs">flush_output_element</text>
<rect x="721.2" y="5.6" width="82.7" height="25.33" fill="#fff" stroke="#000" stroke-width="1.33"/>
<text x="762.5" y="21.6" text-anchor="middle" textLength="60.2" lengthAdjust="spacingAndGlyphs">free_string</text>
<rect x="709.6" y="613.8" width="105.9" height="25.33" fill="#fff" stroke="#000" stroke-width="1.33"/>
<text x="762.5" y="629.9" text-anchor="middle" textLength="83.4" lengthAdjust="spacingAndGlyphs">print_message</text>
<rect x="548.3" y="728.8" width="81.7" height="25.33" fill="#fff" stroke="#000" stroke-width="1.33"/>
<text x="589.1" y="744.9" text-anchor="middle" textLength="59.2" lengthAdjust="spacingAndGlyphs">add_string</text>
<rect x="731.0" y="728.8" width="63.1" height="25.33" fill="#fff" stroke="#000" stroke-width="1.33"/>
<text x="762.5" y="744.9" text-anchor="middle" textLength="40.6" lengthAdjust="spacingAndGlyphs">hashstr</text>
<rect x="866.3" y="779.2" width="128.5" height="25.33" fill="#fff" stroke="#000" stroke-width="1.33"/>
<text x="930.5" y="795.3" text-anchor="middle" textLength="106.0" lengthAdjust="spacingAndGlyphs">new_shared_string</text>
<rect x="876.4" y="613.8" width="108.3" height="25.33" fill="#fff" stroke="#000" stroke-width="1.33"/>
<text x="930.5" y="629.9" text-anchor="middle" textLength="85.8" lengthAdjust="spacingAndGlyphs">esrv_print_msg</text>
<rect x="864.3" y="664.4" width="132.5" height="25.33" fill="#fff" stroke="#000" stroke-width="1.33"/>
<text x="930.5" y="680.5" text-anchor="middle" textLength="110.0" lengthAdjust="spacingAndGlyphs">esrv_print_ext_msg</text>
<rect x="1062.3" y="563.2" width="109.9" height="25.33" fill="#fff" stroke="#000" stroke-width="1.33"/>
<text x="1117.2" y="579.3" text-anchor="middle" textLength="87.4" lengthAdjust="spacingAndGlyphs">SockList_Term</text>
<rect x="1068.2" y="613.8" width="98.1" height="25.33" fill="#fff" stroke="#000" stroke-width="1.33"/>
<text x="1117.2" y="629.9" text-anchor="middle" textLength="75.6" lengthAdjust="spacingAndGlyphs">SockList_Init</text>
<rect x="1237.2" y="613.8" width="112.3" height="25.33" fill="#fff" stroke="#000" stroke-width="1.33"/>
<text x="1293.3" y="629.9" text-anchor="middle" textLength="89.8" lengthAdjust="spacingAndGlyphs">SockList_Reset</text>
<rect x="1045.6" y="664.4" width="143.1" height="25.33" fill="#fff" stroke="#000" stroke-width="1.33"/>
<text x="1117.2" y="680.5" text-anchor="middle" textLength="120.6" lengthAdjust="spacingAndGlyphs">Send_With_Handling</text>
<rect x="1050.5" y="715.2" width="133.7" height="25.33" fill="#fff" stroke="#000" stroke-width="1.33"/>
<text x="1117.3" y="731.3" text-anchor="middle" textLength="111.2" lengthAdjust="spacingAndGlyphs">SockList_AddPrintf</text>
<rect x="1269.7" y="804.6" width="46.8" height="25.33" fill="#fff" stroke="#000" stroke-width="1.33"/>
<text x="1293.1" y="820.7" text-anchor="middle" textLength="24.3" lengthAdjust="spacingAndGlyphs">fatal</text>
<rect x="1397.5" y="816.4" width="111.0" height="25.33" fill="#fff" stroke="#000" stroke-width="1.33"/>
<text x="1453.0" y="832.5" text-anchor="middle" textLength="88.5" lengthAdjust="spacingAndGlyphs">clean_tmp_files</text>
<rect x="1556.8" y="816.4" width="115.3" height="25.33" fill="#fff" stroke="#000" stroke-width="1.33"/>
<text x="1614.4" y="832.5" text-anchor="middle" textLength="92.8" lengthAdjust="spacingAndGlyphs">clean_tmp_map</text>
<rect x="1572.9" y="917.6" width="83.1" height="25.33" fill="#fff" stroke="#000" stroke-width="1.33"/>
<text x="1614.5" y="933.6" text-anchor="middle" textLength="60.6" lengthAdjust="spacingAndGlyphs">swap_map</text>
<rect x="1719.4" y="917.6" width="139.2" height="25.33" fill="#fff" stroke="#000" stroke-width="1.33"/>
<text x="1789.0" y="933.6" text-anchor="middle" textLength="116.7" lengthAdjust="spacingAndGlyphs">set_map_reset_time</text>
<rect x="1731.2" y="968.4" width="115.6" height="25.33" fill="#fff" stroke="#ff0000" stroke-width="1.33"/>
<text x="1789.0" y="984.5" text-anchor="middle" textLength="93.1" lengthAdjust="spacingAndGlyphs">remove_all_pets</text>
<rect x="1744.0" y="1120.3" width="90.3" height="25.33" fill="#fff" stroke="#000" stroke-width="1.33"/>
<text x="1789.2" y="1136.4" text-anchor="middle" textLength="67.8" lengthAdjust="spacingAndGlyphs">delete_map</text>
<rect x="1933.1" y="892.4" width="69.6" height="25.33" fill="#fff" stroke="#000" stroke-width="1.33"/>
<text x="1967.9" y="908.5" text-anchor="middle" textLength="47.1" lengthAdjust="spacingAndGlyphs">seconds</text>
<rect x="1929.5" y="1069.5" width="76.5" height="25.33" fill="#fff" stroke="#ff0000" stroke-width="1.33"/>
<text x="1967.8" y="1085.6" text-anchor="middle" textLength="54.0" lengthAdjust="spacingAndGlyphs">free_map</text>
<rect x="1927.5" y="411.2" width="80.5" height="25.33" fill="#fff" stroke="#000" stroke-width="1.33"/>
<text x="1967.8" y="427.3" text-anchor="middle" textLength="58.0" lengthAdjust="spacingAndGlyphs">save_map</text>
<rect x="1906.5" y="765.7" width="122.8" height="25.33" fill="#fff" stroke="#000" stroke-width="1.33"/>
<text x="1967.9" y="781.8" text-anchor="middle" textLength="100.3" lengthAdjust="spacingAndGlyphs">Write_To_Socket</text>
<rect x="2097.6" y="563.0" width="105.8" height="25.33" fill="#fff" stroke="#000" stroke-width="1.33"/>
<text x="2150.5" y="579.1" text-anchor="middle" textLength="83.3" lengthAdjust="spacingAndGlyphs">write_map_log</text>
<rect x="2102.2" y="664.5" width="96.6" height="25.33" fill="#fff" stroke="#ff0000" stroke-width="1.33"/>
<text x="2150.5" y="680.6" text-anchor="middle" textLength="74.1" lengthAdjust="spacingAndGlyphs">save_objects</text>
<rect x="2097.6" y="765.7" width="105.8" height="25.33" fill="#fff" stroke="#000" stroke-width="1.33"/>
<text x="2150.5" y="781.8" text-anchor="middle" textLength="83.3" lengthAdjust="spacingAndGlyphs">write_todclock</text>
<rect x="2094.3" y="816.4" width="112.4" height="25.33" fill="#fff" stroke="#ff0000" stroke-width="1.33"/>
<text x="2150.5" y="832.5" text-anchor="middle" textLength="89.9" lengthAdjust="spacingAndGlyphs">free_all_objects</text>
<rect x="2100.9" y="867.0" width="99.2" height="25.33" fill="#fff" stroke="#000" stroke-width="1.33"/>
<text x="2150.5" y="883.1" text-anchor="middle" textLength="76.7" lengthAdjust="spacingAndGlyphs">add_to_buffer</text>
<rect x="2076.9" y="1019.1" width="147.2" height="25.33" fill="#fff" stroke="#000" stroke-width="1.33"/>
<text x="2150.5" y="1035.2" text-anchor="middle" textLength="124.7" lengthAdjust="spacingAndGlyphs">execute_global_event</text>
<rect x="2311.1" y="943.1" width="49.6" height="25.33" fill="#fff" stroke="#000" stroke-width="1.33"/>
<text x="2335.9" y="959.2" text-anchor="middle" textLength="27.1" lengthAdjust="spacingAndGlyphs">LOG</text>
<rect x="2276.3" y="157.7" width="119.2" height="25.33" fill="#fff" stroke="#000" stroke-width="1.33"/>
<text x="2335.9" y="173.8" text-anchor="middle" textLength="96.7" lengthAdjust="spacingAndGlyphs">print_shop_string</text>
<rect x="2271.3" y="309.7" width="128.8" height="25.33" fill="#fff" stroke="#000" stroke-width="1.33"/>
<text x="2335.7" y="325.8" text-anchor="middle" textLength="106.3" lengthAdjust="spacingAndGlyphs">create_items_path</text>
<rect x="2477.6" y="208.5" width="111.0" height="25.33" fill="#fff" stroke="#000" stroke-width="1.33"/>
<text x="2533.1" y="224.6" text-anchor="middle" textLength="88.5" lengthAdjust="spacingAndGlyphs">tempnam_local</text>
<rect x="2448.4" y="360.6" width="169.7" height="25.33" fill="#fff" stroke="#000" stroke-width="1.33"/>
<text x="2533.2" y="376.7" text-anchor="middle" textLength="147.2" lengthAdjust="spacingAndGlyphs">create_overlay_pathname</text>
<rect x="2473.4" y="968.5" width="119.2" height="25.33" fill="#fff" stroke="#000" stroke-width="1.33"/>
<text x="2533.0" y="984.6" text-anchor="middle" textLength="96.7" lengthAdjust="spacingAndGlyphs">emergency_save</text>
<rect x="3004.6" y="106.7" width="123.4" height="25.33" fill="#fff" stroke="#000" stroke-width="1.33"/>
<text x="3066.3" y="122.8" text-anchor="middle" textLength="100.9" lengthAdjust="spacingAndGlyphs">create_pathname</text>
<rect x="3018.4" y="436.4" width="96.5" height="25.33" fill="#fff" stroke="#000" stroke-width="1.33"/>
<text x="3066.7" y="452.5" text-anchor="middle" textLength="74.0" lengthAdjust="spacingAndGlyphs">strerror_local</text>
<rect x="2820.2" y="752.5" width="127.3" height="25.33" fill="#fff" stroke="#000" stroke-width="1.33"/>
<text x="2883.8" y="768.6" text-anchor="middle" textLength="104.8" lengthAdjust="spacingAndGlyphs">make_path_to_file</text>
<rect x="2669.5" y="917.8" width="89.9" height="25.33" fill="#fff" stroke="#ff0000" stroke-width="1.33"/>
<text x="2714.4" y="933.9" text-anchor="middle" textLength="67.4" lengthAdjust="spacingAndGlyphs">save_player</text>
<rect x="2667.0" y="968.5" width="95.3" height="25.33" fill="#fff" stroke="#ff0000" stroke-width="1.33"/>
<text x="2714.7" y="984.6" text-anchor="middle" textLength="72.8" lengthAdjust="spacingAndGlyphs">check_score</text>
<rect x="2811.1" y="917.8" width="145.8" height="25.33" fill="#fff" stroke="#ff0000" stroke-width="1.33"/>
<text x="2884.0" y="933.9" text-anchor="middle" textLength="123.3" lengthAdjust="spacingAndGlyphs">draw_ext_info_format</text>
<rect x="3175.2" y="309.9" width="65.1" height="25.33" fill="#fff" stroke="#000" stroke-width="1.33"/>
<text x="3207.8" y="326.0" text-anchor="middle" textLength="42.6" lengthAdjust="spacingAndGlyphs">snprintf</text>
</svg></body></html>
